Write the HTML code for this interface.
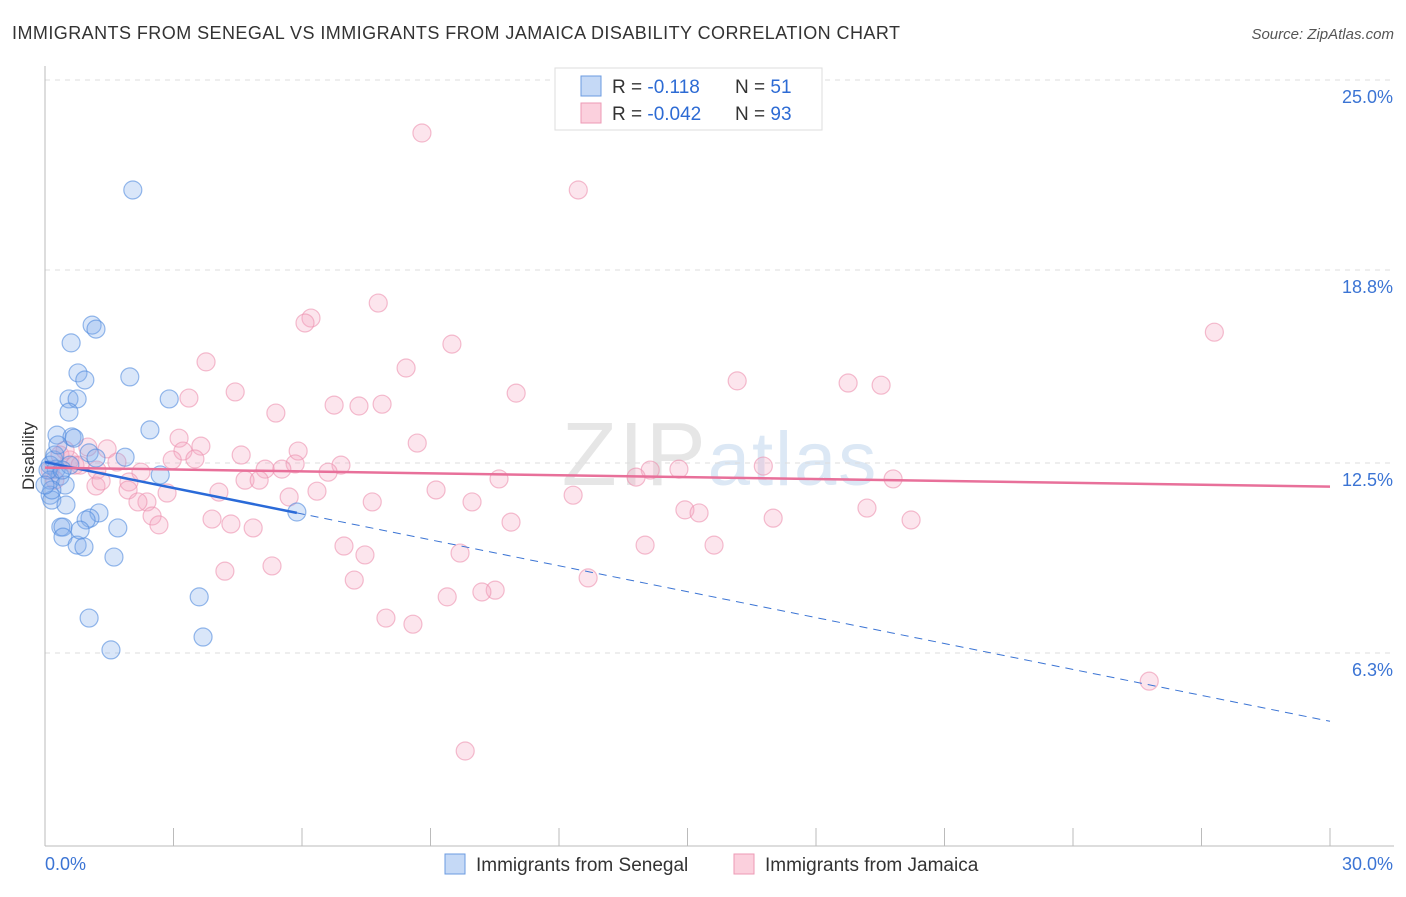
<!DOCTYPE html>
<html><head><meta charset="utf-8"><style>
body{margin:0;background:#fff;font-family:"Liberation Sans",sans-serif;}
svg text{font-family:"Liberation Sans",sans-serif;}
</style></head><body>
<svg id="chart" width="1406" height="892" xmlns="http://www.w3.org/2000/svg">
<text x="12" y="39" font-size="18" fill="#333" textLength="888" lengthAdjust="spacing">IMMIGRANTS FROM SENEGAL VS IMMIGRANTS FROM JAMAICA DISABILITY CORRELATION CHART</text>
<text x="1394" y="39" font-size="15" fill="#555" font-style="italic" text-anchor="end">Source: ZipAtlas.com</text>
<text x="720" y="485" font-size="90" text-anchor="middle" fill="#e6e6e6" font-family="Liberation Serif" letter-spacing="2">ZIP<tspan fill="#dce8f5" font-family="Liberation Sans" font-size="76">atlas</tspan></text>
<g id="grid"></g>
<g id="axes"></g>
<text transform="translate(34,456) rotate(-90)" font-size="17" fill="#333" text-anchor="middle">Disability</text>
<g id="points"></g>
<g id="trends"></g>
<g>
<rect x="555" y="68" width="267" height="62" fill="#fff" stroke="#ddd"/>
<rect x="581" y="76" width="20" height="20" fill="#c5d9f6" stroke="#6b9be0"/>
<rect x="581" y="103" width="20" height="20" fill="#fbd0dd" stroke="#ec9ab5"/>
<text x="612" y="93" font-size="19" fill="#333">R =  <tspan fill="#2d6bd4">-0.118</tspan></text>
<text x="735" y="93" font-size="19" fill="#333">N =  <tspan fill="#2d6bd4">51</tspan></text>
<text x="612" y="120" font-size="19" fill="#333">R = <tspan fill="#2d6bd4">-0.042</tspan></text>
<text x="735" y="120" font-size="19" fill="#333">N = <tspan fill="#2d6bd4">93</tspan></text>
</g>
<g>
<rect x="445" y="854" width="20" height="20" fill="#c5d9f6" stroke="#6b9be0"/>
<text x="476" y="871" font-size="19" fill="#333">Immigrants from Senegal</text>
<rect x="734" y="854" width="20" height="20" fill="#fbd0dd" stroke="#ec9ab5"/>
<text x="765" y="871" font-size="19" fill="#333">Immigrants from Jamaica</text>
</g>
</svg>
<script>
const yTicks=[25.0,18.8,12.5,6.3];
const yTickLabels=["25.0%","18.8%","12.5%","6.3%"];
const xTickCount=[0,3,6,9,12,15,18,21,24,27,30];
const xEndLabels=["0.0%","30.0%"];
const senegalX=[2.05,1.10,1.19,0.61,0.77,0.93,1.98,0.56,0.75,2.90,0.56,2.45,0.28,0.63,0.68,1.03,0.21,1.19,1.87,2.69,0.12,0.26,0.35,0.12,0.47,0.12,0.16,0.49,1.26,1.05,0.96,0.37,0.42,1.70,0.42,0.75,0.91,1.61,5.88,3.60,1.03,3.69,1.54,0.07,0.16,0.82,0.23,0.58,0.30,0,0.40];
const senegalY=[21.41,17.0,16.87,16.42,15.44,15.21,15.31,14.59,14.59,14.59,14.16,13.58,13.41,13.35,13.31,12.83,12.60,12.66,12.69,12.11,12.43,12.30,12.07,11.94,11.78,11.45,11.29,11.13,10.87,10.70,10.64,10.41,10.41,10.38,10.08,9.82,9.76,9.43,10.90,8.13,7.44,6.82,6.40,12.27,11.62,10.31,12.76,12.43,13.09,11.78,12.27];
const jamaicaX=[8.80,12.45,27.30,7.78,6.21,6.07,9.50,3.76,8.43,16.16,18.75,19.52,4.44,11.00,3.36,6.75,7.33,7.87,5.39,3.13,8.69,1.00,1.45,3.64,5.91,3.22,4.58,3.50,2.97,1.68,5.84,6.91,5.14,5.53,16.77,14.13,14.80,13.80,19.80,10.60,2.24,6.61,1.21,0.35,0.58,0.70,4.67,5.00,1.96,1.19,1.31,1.94,4.06,6.35,9.13,2.85,5.70,12.33,2.38,7.64,2.17,9.97,19.19,2.50,14.94,15.27,3.90,2.66,10.88,17.0,20.22,4.34,4.86,6.98,14.01,15.62,9.69,7.47,4.20,5.30,7.22,12.68,10.51,10.20,9.39,7.96,8.59,25.78,9.81,0.12,0.23,0.47,0.82];
const jamaicaY=[23.27,21.41,16.77,17.72,17.23,17.07,16.38,15.80,15.60,15.18,15.11,15.04,14.82,14.78,14.62,14.39,14.36,14.42,14.13,13.31,13.15,13.02,12.96,13.05,12.89,12.89,12.76,12.63,12.60,12.53,12.47,12.43,12.30,12.30,12.40,12.27,12.30,12.04,11.98,11.98,12.20,12.20,12.27,12.76,12.60,12.43,11.94,11.94,11.88,11.75,11.91,11.62,11.55,11.58,11.62,11.52,11.39,11.45,11.23,11.23,11.23,11.23,11.03,10.77,10.97,10.87,10.67,10.48,10.57,10.70,10.64,10.51,10.38,9.79,9.82,9.82,9.56,9.50,8.97,9.14,8.68,8.75,8.35,8.29,8.13,7.44,7.24,5.38,3.10,12.27,11.94,12.92,12.43];
const senegalTrend=[12.53,-0.282,5.88];
const jamaicaTrend=[12.35,11.73];
const NS="http://www.w3.org/2000/svg";
const X=v=>45+v/30*1285, Y=v=>80+(25-v)*30.64;
function mk(tag,attrs,parent){const e=document.createElementNS(NS,tag);for(const k in attrs)e.setAttribute(k,attrs[k]);parent.appendChild(e);return e;}
const grid=document.getElementById('grid'),axes=document.getElementById('axes');
yTicks.forEach((t,i)=>{
 const l=mk('line',{x1:45,x2:1394,y1:Y(t),y2:Y(t),stroke:'#ddd','stroke-dasharray':'5,5'},grid);
 
 
 const tx=mk('text',{x:1393,y:Y(t)+23,'font-size':18,fill:'#3b74d4','text-anchor':'end'},axes);
 tx.textContent=yTickLabels[i];
 
 
});
const ya=mk('line',{x1:45,x2:45,y1:66,y2:846,stroke:'#bbb'},axes);


const xa=mk('line',{x1:45,x2:1394,y1:846,y2:846,stroke:'#bbb'},axes);


xTickCount.forEach(t=>{const l=mk('line',{x1:X(t),x2:X(t),y1:828,y2:846,stroke:'#bbb'},axes);
 
 });
const xl0=mk('text',{x:45,y:870,'font-size':18,fill:'#3b74d4'},axes);xl0.textContent=xEndLabels[0];


const xl1=mk('text',{x:1393,y:870,'font-size':18,fill:'#3b74d4','text-anchor':'end'},axes);xl1.textContent=xEndLabels[1];


const pts=document.getElementById('points');
jamaicaX.forEach((x,i)=>{const c=mk('circle',{cx:X(x),cy:Y(jamaicaY[i]),r:9,fill:'rgba(246,170,195,0.3)',stroke:'rgba(236,145,175,0.6)','stroke-width':1.2},pts);
 
 });
senegalX.forEach((x,i)=>{const c=mk('circle',{cx:X(x),cy:Y(senegalY[i]),r:9,fill:'rgba(130,172,235,0.3)',stroke:'rgba(80,138,222,0.6)','stroke-width':1.2},pts);
 
 });
const tr=document.getElementById('trends');
const sy=x=>senegalTrend[0]+senegalTrend[1]*x;
const d=mk('line',{x1:X(senegalTrend[2]),y1:Y(sy(senegalTrend[2])),x2:X(30),y2:Y(sy(30)),stroke:'#3b74d4','stroke-width':1,'stroke-dasharray':'8,6'},tr);


const s=mk('line',{x1:X(0),y1:Y(sy(0)),x2:X(senegalTrend[2]),y2:Y(sy(senegalTrend[2])),stroke:'#2a6ad8','stroke-width':2.5},tr);


const j=mk('line',{x1:X(0),y1:Y(jamaicaTrend[0]),x2:X(30),y2:Y(jamaicaTrend[1]),stroke:'#e8709a','stroke-width':2.5},tr);


</script>
</body></html>
